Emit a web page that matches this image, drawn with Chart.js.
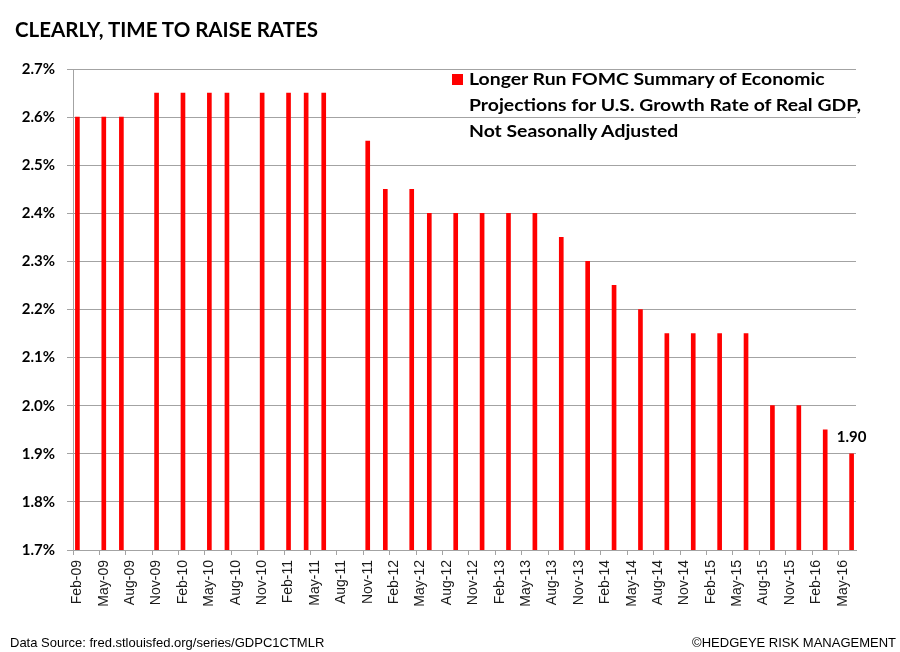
<!DOCTYPE html>
<html>
<head>
<meta charset="utf-8">
<script src="https://cdn.jsdelivr.net/npm/chart.js@4.4.1/dist/chart.umd.min.js"></script>
<style>
  html, body { margin: 0; padding: 0; background: #ffffff; }
  #wrap { position: relative; width: 900px; height: 652px; overflow: hidden; background: #fff; }
  #chart { position: absolute; left: 0; top: 0; }
  .title { position: absolute; left: 15px; top: 19px; font: bold 20px Lato, sans-serif; line-height: 20px; color: #000; white-space: nowrap; transform: scaleX(1.025); transform-origin: 0 0; }
  .legend { position: absolute; left: 452px; top: 66px; }
  .legend .sw { position: absolute; left: 0; top: 8px; width: 11px; height: 11px; background: #ff0000; }
  .legend .txt { position: absolute; left: 17px; top: 0px; font: bold 17px Lato, sans-serif; line-height: 26px; color: #000; white-space: nowrap; transform: scaleX(1.14); transform-origin: 0 0; }
  .foot { position: absolute; top: 636px; font: 13px "Liberation Sans", Arial, sans-serif; line-height: 13px; color: #000; white-space: nowrap; }
  .foot.left { left: 10px; }
  .foot.right { right: 4px; }
</style>
</head>
<body>
<div id="wrap">
  <canvas id="chart" width="900" height="652"></canvas>
  <div class="title">CLEARLY, TIME TO RAISE RATES</div>
  <div class="legend"><div class="sw"></div><div class="txt">Longer Run FOMC Summary of Economic<br>Projections for U.S. Growth Rate of Real GDP,<br>Not Seasonally Adjusted</div></div>
  <div class="foot left">Data Source: fred.stlouisfed.org/series/GDPC1CTMLR</div>
  <div class="foot right">©HEDGEYE RISK MANAGEMENT</div>
</div>
<script>
// ---- data ----
const seriesName = 'Longer Run FOMC Summary of Economic Projections for U.S. Growth Rate of Real GDP, Not Seasonally Adjusted';
const releaseMonths = ['Feb-09','May-09','Jul-09','Nov-09','Feb-10','May-10','Jul-10','Nov-10','Feb-11','Apr-11','Jun-11','Nov-11','Jan-12','Apr-12','Jun-12','Sep-12','Dec-12','Mar-13','Jun-13','Sep-13','Dec-13','Mar-14','Jun-14','Sep-14','Dec-14','Mar-15','Jun-15','Sep-15','Dec-15','Mar-16','Jun-16'];
const gdpValues = [2.6,2.6,2.6,2.65,2.65,2.65,2.65,2.65,2.65,2.65,2.65,2.55,2.45,2.45,2.4,2.4,2.4,2.4,2.4,2.35,2.3,2.25,2.2,2.15,2.15,2.15,2.15,2.0,2.0,1.95,1.9];
const tickLabels = ['Feb-09','May-09','Aug-09','Nov-09','Feb-10','May-10','Aug-10','Nov-10','Feb-11','May-11','Aug-11','Nov-11','Feb-12','May-12','Aug-12','Nov-12','Feb-13','May-13','Aug-13','Nov-13','Feb-14','May-14','Aug-14','Nov-14','Feb-15','May-15','Aug-15','Nov-15','Feb-16','May-16'];
const axisStart = 'Feb-09';
const axisEnd = 'Jun-16';
const yMin = 1.7, yMax = 2.7, yStep = 0.1;

// ---- monthly category axis (Feb-09 .. Jun-16) ----
const monNames = ['Jan','Feb','Mar','Apr','May','Jun','Jul','Aug','Sep','Oct','Nov','Dec'];
function parseMon(s) { const [m, y] = s.split('-'); return { m: monNames.indexOf(m), y: 2000 + parseInt(y, 10) }; }
const months = [];
(function () {
  let { m, y } = parseMon(axisStart);
  const end = parseMon(axisEnd);
  while (y < end.y || (y === end.y && m <= end.m)) {
    months.push(monNames[m] + '-' + String(y % 100).padStart(2, '0'));
    m++; if (m > 11) { m = 0; y++; }
  }
})();
const tickSet = new Set(tickLabels);
const points = releaseMonths.map((mo, i) => ({ x: mo, y: gdpValues[i] }));

const GRID = '#a3a3a3';

const lastLabelPlugin = {
  id: 'lastLabel',
  afterDatasetsDraw(chart) {
    const meta = chart.getDatasetMeta(0);
    const el = meta.data[meta.data.length - 1];
    const v = gdpValues[gdpValues.length - 1];
    const ctx = chart.ctx;
    ctx.save();
    ctx.font = 'bold 15px Lato, sans-serif';
    ctx.fillStyle = '#000';
    ctx.textAlign = 'center';
    ctx.textBaseline = 'alphabetic';
    ctx.fillText(v.toFixed(2), el.x, el.y - 11.5);
    ctx.restore();
  }
};

function draw() {
  new Chart(document.getElementById('chart'), {
    type: 'bar',
    data: {
      labels: months,
      datasets: [{
        label: seriesName,
        data: points,
        backgroundColor: '#ff0000',
        borderWidth: 0,
        barThickness: 4
      }]
    },
    options: {
      responsive: false,
      animation: false,
      devicePixelRatio: 1,
      layout: { padding: { left: 0, top: 69, right: 44, bottom: 0 } },
      plugins: { legend: { display: false }, title: { display: false }, tooltip: { enabled: false } },
      scales: {
        x: {
          type: 'category',
          offset: true,
          grid: {
            offset: true,
            drawOnChartArea: false,
            drawTicks: true,
            tickLength: 5,
            color: (ctx) => (ctx.index !== undefined && tickSet.has(months[ctx.index])) ? GRID : 'rgba(0,0,0,0)'
          },
          border: { display: true, color: GRID, width: 1 },
          ticks: {
            autoSkip: false,
            minRotation: 90,
            maxRotation: 90,
            padding: 5,
            color: '#1a1a1a',
            font: { family: '"Liberation Sans", Arial, sans-serif', size: 14 },
            callback: function (value) {
              const lab = this.getLabelForValue(value);
              return tickSet.has(lab) ? lab : '';
            }
          },
          afterFit: (scale) => { scale.height = 102; }
        },
        y: {
          min: yMin,
          max: yMax,
          grid: { color: GRID, lineWidth: 1, drawTicks: true, tickLength: 6 },
          border: { display: true, color: GRID, width: 1 },
          ticks: {
            stepSize: yStep,
            padding: 12,
            color: '#000',
            font: { family: 'Lato, sans-serif', size: 15, weight: 'bold' },
            callback: (v) => Number(v).toFixed(1) + '%'
          },
          afterFit: (scale) => { scale.width = 73; }
        }
      }
    },
    plugins: [lastLabelPlugin]
  });
}
if (document.fonts && document.fonts.ready) { document.fonts.ready.then(draw); } else { draw(); }
</script>
</body>
</html>
